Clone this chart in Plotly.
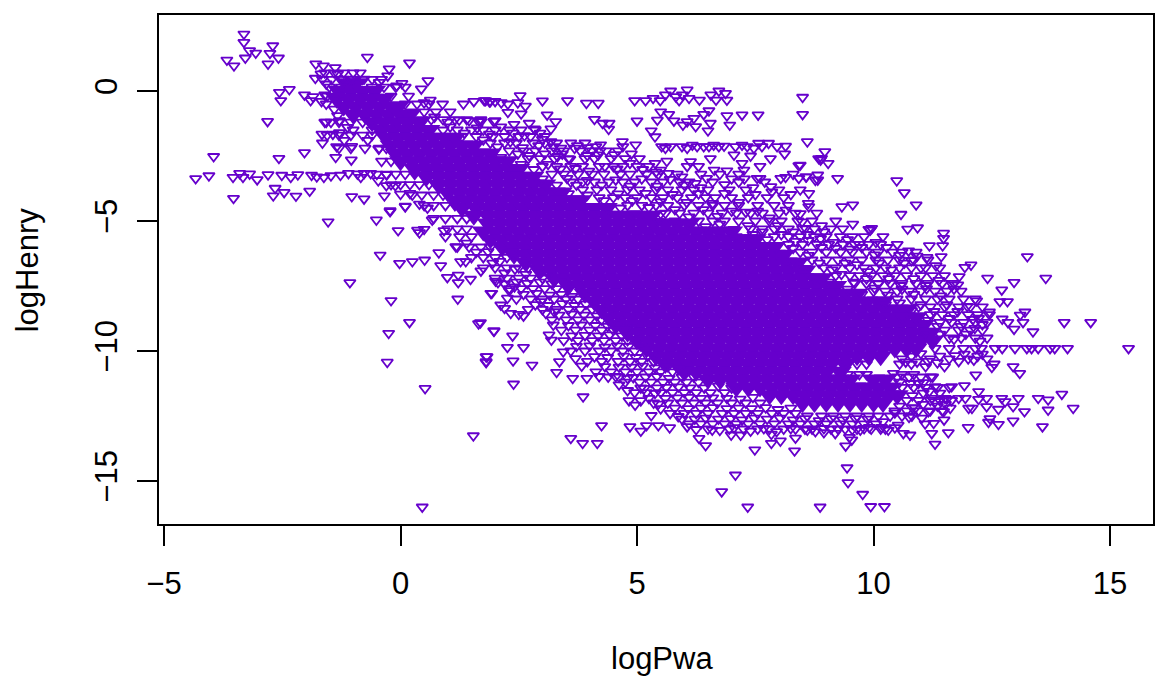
import plotly.graph_objects as go

COLOR = "#6600CC"
x_ticks = [-5, 0, 5, 10, 15]
y_ticks = [0, -5, -10, -15]
x_label = "logPwa"
y_label = "logHenry"

# Overplotted centre of the cloud, read row by row (logHenry level -> logPwa values)
core_levels = [0.3,0.0,-0.3,-0.6,-0.9,-1.2,-1.5,-1.8,-2.1,-2.4,-2.7,-3.0,-3.3,-3.6,-3.9,-4.2,-4.5,-4.8,-5.1,-5.4,-5.7,-6.0,-6.3,-6.6,-6.9,-7.2,-7.5,-7.8,-8.1,-8.4,-8.7,-9.0,-9.3,-9.6,-9.9,-10.2,-10.5,-10.8,-11.1,-11.4,-11.7,-12.0]
core_pwa = [
[-1.15,-0.95],
[-1.3,-1.05,-0.8,-0.55],
[-1.35,-1.1,-0.85,-0.6,-0.35],
[-1.2,-0.95,-0.7,-0.45,-0.2,-0.05],
[-1.0,-0.75,-0.5,-0.25,0.0,0.2],
[-0.6,-0.35,-0.1,0.15,0.4],
[-0.4,-0.15,0.1,0.35,0.6],
[-0.3,-0.05,0.2,0.45,0.7,0.95,1.15],
[-0.2,0.05,0.3,0.55,0.8,1.05,1.3,1.55],
[-0.1,0.15,0.4,0.65,0.9,1.15,1.4,1.65,1.9],
[0.0,0.25,0.5,0.75,1.0,1.25,1.5,1.75,2.0,2.25],
[0.3,0.55,0.8,1.05,1.3,1.55,1.8,2.05,2.3,2.5],
[0.55,0.8,1.05,1.3,1.55,1.8,2.05,2.3,2.55,2.8],
[0.8,1.05,1.3,1.55,1.8,2.05,2.3,2.55,2.8,3.05],
[1.0,1.25,1.5,1.75,2.0,2.25,2.5,2.75,3.0,3.25,3.4],
[1.15,1.4,1.65,1.9,2.15,2.4,2.65,2.9,3.15,3.4,3.65,3.8],
[1.3,1.6,1.85,2.1,2.35,2.6,2.85,3.1,3.35,3.6,3.85,4.1,4.35],
[1.55,1.85,2.1,2.35,2.6,2.85,3.1,3.35,3.6,3.85,4.1,4.35,4.6,4.85,5.1,5.3],
[1.85,2.1,2.35,2.6,2.85,3.1,3.35,3.6,3.85,4.1,4.35,4.6,4.85,5.1,5.35,5.6,5.85,6.1],
[1.75,2.0,2.25,2.5,2.75,3.0,3.25,3.5,3.75,4.0,4.25,4.5,4.75,5.0,5.25,5.5,5.75,6.0,6.25,6.5,6.75,7.0],
[1.9,2.15,2.4,2.65,2.9,3.15,3.4,3.65,3.9,4.15,4.4,4.65,4.9,5.15,5.4,5.65,5.9,6.15,6.4,6.65,6.9,7.15,7.4,7.5],
[2.15,2.4,2.65,2.9,3.15,3.4,3.65,3.9,4.15,4.4,4.65,4.9,5.15,5.4,5.65,5.9,6.15,6.4,6.65,6.9,7.15,7.4,7.65,7.9],
[2.4,2.65,2.9,3.15,3.4,3.65,3.9,4.15,4.4,4.65,4.9,5.15,5.4,5.65,5.9,6.15,6.4,6.65,6.9,7.15,7.4,7.65,7.9,8.1],
[2.65,2.9,3.15,3.4,3.65,3.9,4.15,4.4,4.65,4.9,5.15,5.4,5.65,5.9,6.15,6.4,6.65,6.9,7.15,7.4,7.65,7.9,8.15,8.4],
[2.95,3.2,3.45,3.7,3.95,4.2,4.45,4.7,4.95,5.2,5.45,5.7,5.95,6.2,6.45,6.7,6.95,7.2,7.45,7.7,7.95,8.2,8.45,8.55],
[3.25,3.5,3.75,4.0,4.25,4.5,4.75,5.0,5.25,5.5,5.75,6.0,6.25,6.5,6.75,7.0,7.25,7.5,7.75,8.0,8.25,8.5,8.75,8.9],
[3.55,3.8,4.05,4.3,4.55,4.8,5.05,5.3,5.55,5.8,6.05,6.3,6.55,6.8,7.05,7.3,7.55,7.8,8.05,8.3,8.55,8.8,9.05,9.2],
[3.9,4.15,4.4,4.65,4.9,5.15,5.4,5.65,5.9,6.15,6.4,6.65,6.9,7.15,7.4,7.65,7.9,8.15,8.4,8.65,8.9,9.15,9.4,9.65],
[4.1,4.35,4.6,4.85,5.1,5.35,5.6,5.85,6.1,6.35,6.6,6.85,7.1,7.35,7.6,7.85,8.1,8.35,8.6,8.85,9.1,9.35,9.6,9.85,10.1,10.2],
[4.25,4.5,4.75,5.0,5.25,5.5,5.75,6.0,6.25,6.5,6.75,7.0,7.25,7.5,7.75,8.0,8.25,8.5,8.75,9.0,9.25,9.5,9.75,10.0,10.25,10.5,10.7],
[4.4,4.65,4.9,5.15,5.4,5.65,5.9,6.15,6.4,6.65,6.9,7.15,7.4,7.65,7.9,8.15,8.4,8.65,8.9,9.15,9.4,9.65,9.9,10.15,10.4,10.65,10.9],
[4.55,4.8,5.05,5.3,5.55,5.8,6.05,6.3,6.55,6.8,7.05,7.3,7.55,7.8,8.05,8.3,8.55,8.8,9.05,9.3,9.55,9.8,10.05,10.3,10.55,10.8,11.05],
[4.8,5.05,5.3,5.55,5.8,6.05,6.3,6.55,6.8,7.05,7.3,7.55,7.8,8.05,8.3,8.55,8.8,9.05,9.3,9.55,9.8,10.05,10.3,10.55,10.8,11.05,11.2],
[5.0,5.25,5.5,5.75,6.0,6.25,6.5,6.75,7.0,7.25,7.5,7.75,8.0,8.25,8.5,8.75,9.0,9.25,9.5,9.75,10.0,10.25,10.5,10.75,11.0,11.25],
[5.2,5.45,5.7,5.95,6.2,6.45,6.7,6.95,7.2,7.45,7.7,7.95,8.2,8.45,8.7,8.95,9.2,9.45,9.7,9.95,10.2,10.45,10.7,10.9],
[5.4,5.65,5.9,6.15,6.4,6.65,6.9,7.15,7.4,7.65,7.9,8.15,8.4,8.65,8.9,9.15,9.4,9.65,9.9,10.15],
[5.6,5.85,6.1,6.35,6.6,6.85,7.1,7.35,7.6,7.85,8.1,8.35,8.6,8.85,9.1,9.4],
[6.0,6.25,6.5,6.75,7.0,7.25,7.5,7.75,8.0,8.25,8.5,8.75,9.0,9.3],
[6.5,6.75,7.0,7.25,7.5,7.75,8.0,8.25,8.5,8.75,9.0,9.25,9.5,10.0,10.25],
[7.1,7.35,7.6,7.85,8.1,8.35,8.6,8.85,9.1,9.35,9.6,9.85,10.1,10.35],
[7.8,8.05,8.3,8.55,8.8,9.05,9.3,9.55,9.8,10.05,10.3,10.5],
[8.5,8.75,9.0,9.25,9.5,9.75,10.0,10.2],
]

# Fringe of the cloud, read row by row
band_levels = [-1.5,-1.75,-2.0,-2.3,-2.6,-2.9,-3.2,-3.5,-3.8,-4.1,-4.4,-4.7,-5.0,-5.3,-5.6,-5.9,-6.2,-6.5,-6.8,-7.1,-7.4,-7.7,-8.0,-8.3,-8.6,-8.9,-9.2,-9.5]
band_pwa = [
[0.9,1.2,1.5,1.75,2.0,2.3,2.55,2.85],
[1.3,1.6,1.95,2.2,2.5,2.75,3.05],
[1.9,2.2,2.45,2.8,3.05,3.3,3.6,3.9],
[2.3,2.6,2.85,3.2,3.45,3.8,4.05,4.35,4.6],
[2.7,2.95,3.25,3.55,3.9,4.1,4.45,4.75,5.05],
[3.0,3.3,3.6,3.85,4.2,4.5,4.7,5.0,5.25,6.3,7.6],
[3.2,3.45,3.75,4.05,4.3,4.65,4.85,5.2,5.45,6.75,8.3],
[3.6,3.85,4.1,4.4,4.7,4.95,5.3,5.55,5.9,6.1,6.6,7.15,7.7],
[3.85,4.15,4.45,4.8,5.05,5.4,5.65,5.95,6.2,6.5,6.95,7.3,8.0,8.45],
[4.2,4.5,4.75,5.0,5.3,5.55,5.85,6.15,6.45,6.65,7.0,7.35,7.75,8.1],
[4.8,5.1,5.4,5.65,6.0,6.3,6.6,6.85,7.15,7.55,7.9,8.2],
[5.6,5.9,6.2,6.5,6.8,7.1,7.4,7.65,8.0,8.35,8.8],
[6.3,6.6,6.85,7.15,7.5,7.8,8.05,8.4,8.7,9.2],
[7.4,7.65,7.9,8.2,8.5,8.75,9.1,9.35],
[7.9,8.2,8.45,8.75,9.0,9.3,9.55,9.8,10.2],
[8.2,8.5,8.8,9.05,9.35,9.6,9.9,10.15,10.5],
[8.45,8.7,9.0,9.3,9.55,9.85,10.1,10.4,10.6,10.9],
[8.7,9.0,9.25,9.5,9.75,10.05,10.3,10.55,10.85,11.15],
[8.95,9.2,9.5,9.8,10.05,10.25,10.55,10.8,11.1,11.4],
[9.2,9.5,9.7,9.95,10.2,10.45,10.7,11.0,11.25,11.5],
[9.6,9.85,10.1,10.35,10.6,10.9,11.15,11.45,11.7],
[10.0,10.25,10.5,10.75,11.0,11.3,11.55,11.85],
[10.5,10.8,11.1,11.35,11.6,11.9,12.15],
[10.95,11.2,11.5,11.8,12.05,12.3],
[11.2,11.45,11.7,12.0,12.2,12.45],
[11.4,11.65,11.9,12.15,12.4],
[11.5,11.8,12.05,12.3],
[11.6,11.85,12.15,12.4],
]
low_levels = [-5.6,-6.0,-6.4,-6.8,-7.2,-7.6,-8.0,-8.4,-8.8,-9.2,-9.6,-10.0,-10.4,-10.8,-11.2,-11.6,-12.0,-12.4,-12.8,-13.0,-12.5,-10.5,-10.9,-11.0,-11.4,-11.9,-12.3]
low_pwa = [
[0.95,1.25,1.5],
[1.2,1.45,1.7,1.9],
[1.5,1.75,2.0,2.25],
[1.75,2.0,2.25,2.5,2.7],
[2.0,2.25,2.5,2.75,3.0],
[2.3,2.55,2.8,3.05,3.3,3.55],
[2.45,2.75,3.0,3.25,3.5,3.75],
[2.7,3.0,3.3,3.55,3.8,4.05,4.3],
[3.2,3.5,3.75,4.0,4.25,4.5],
[3.4,3.7,4.0,4.25,4.5,4.75],
[3.45,3.75,4.05,4.3,4.55,4.8,5.0],
[3.6,3.9,4.2,4.45,4.7,4.95,5.2],
[3.95,4.25,4.6,4.85,5.1,5.35],
[4.45,4.75,5.0,5.25,5.5,5.75],
[4.75,5.05,5.3,5.55,5.8,6.05,6.3],
[4.95,5.2,5.5,5.75,6.0,6.25,6.55,6.85],
[5.35,5.65,5.95,6.2,6.45,6.7,7.0,7.3,7.6],
[5.7,6.0,6.25,6.5,6.8,7.05,7.3,7.55,7.85,8.1,8.35],
[6.1,6.35,6.6,6.85,7.1,7.35,7.6,7.9,8.2,8.45,8.75,9.0,9.3,9.55,9.8,10.05],
[6.5,6.95,7.25,7.55,7.8,8.1,8.35,8.7,9.1,9.4,9.65,9.95,10.25],
[8.6,8.9,9.15,9.4,9.65,9.9,10.1,10.35,10.6],
[9.45,9.65,9.85,10.55,10.8],
[9.45,9.7,9.85,10.6,10.85],
[10.5,10.75,11.0,11.25],
[10.6,10.85,11.1,11.35,11.6],
[10.7,10.95,11.2,11.4,11.65],
[10.45,10.7,10.95,11.2,11.45],
]
head_levels = [0.7,0.45,0.15,-0.2,-0.5,-0.8,-1.1,-1.2,-1.7,-2.2,-2.7,-3.2,-3.6,-4.0,-4.4,-4.9,-5.3]
head_pwa = [
[-1.6,-1.4,-1.2,-1.0,-0.85],
[-1.65,-1.45,-1.25,-1.05,-0.8,-0.6,-0.4],
[-1.5,-1.25,-0.6,-0.35,-0.1,0.1],
[-1.55,-1.3,-0.2],
[0.1,0.35,0.6],
[0.25,0.5,0.75,1.05],
[0.45,0.65,0.9,1.15,1.4,1.7],
[-1.6,-1.3,-1.05,-0.8,-0.65],
[-1.55,-1.3,-1.05,-0.8,-0.6],
[-1.3,-1.05,-0.75,-0.45,-0.3],
[-0.4,-0.2],
[-0.5,-0.3,-0.1,0.1,0.3],
[-0.2,0.0,0.2,0.4,0.6],
[0.25,0.45,0.7,0.9],
[0.5,0.7,0.95,1.15],
[0.7,0.95,1.2,1.4],
[1.0,1.2,1.4],
]

# Individually readable points, (logPwa, logHenry)
top_left = [(-3.31,2.19),(-3.31,1.87),(-3.19,1.55),(-3.06,1.46),(-3.28,1.27),(-3.67,1.19),(-3.52,0.97),(-2.70,1.74),(-2.76,1.45),(-2.58,1.27),(-2.80,1.04),(-0.70,1.3),(0.19,1.08),(-0.24,0.85),(0.58,0.4),(0.44,0.08),(-1.79,1.04),(-1.63,0.97),(-1.38,0.9),(-1.8,0.49),(-2.35,0.06),(-2.56,-0.05),(-2.53,-0.37),(-2.81,-1.17),(-2.03,-0.15),(-1.85,-0.22),(-1.90,-0.37),(-1.67,-0.4),(-1.57,-0.5),(-1.4,-0.7),
(-1.57,-1.2),(-1.47,-1.2),(-1.29,-1.14),(-1.66,-1.66),(-1.43,-1.66),(-1.29,-1.6),(-1.65,-2.0),(-1.35,-2.14),(-1.19,-1.9),(-1.03,-2.13),(-1.0,-1.5),(-1.12,-1.4),(-0.69,-1.9),(-0.46,-2.23),(-0.6,-1.5),(-1.6,-0.15),(-1.33,-0.95),
(-1.68,0.66),(-1.33,0.66),(-1.22,0.46),(-1.0,0.46),(-0.77,0.46),(-1.57,0.27),(-0.45,0.33),(-0.27,0.58),(-0.08,0.2),(0.03,0.29),(0.17,-0.2),(0.5,-0.45),(0.63,-0.35),(0.89,-0.5),(1.33,-0.5),(1.55,-0.4),(1.8,-0.37),(1.9,-0.4),(2.0,-0.4),(0.72,-1.0),(1.0,-1.2),(1.24,-1.12),(1.45,-1.14),(1.65,-1.17),(1.97,-1.17)]
stripe_low = [(-3.95,-2.52),(-4.33,-3.37),(-4.05,-3.26),(-3.54,-3.32),(-3.4,-3.17),(-3.33,-3.32),(-3.19,-3.19),(-3.03,-3.41),(-2.8,-3.22),(-2.51,-3.24),(-2.32,-3.32),(-2.17,-3.22),(-1.88,-3.24),(-1.77,-3.3),(-1.62,-3.32),(-1.47,-3.26),(-1.27,-3.24),(-1.1,-3.17),(-0.91,-3.19),(-0.77,-3.17),(-0.84,-3.32),(-0.63,-3.17),(-0.47,-3.45),(-3.53,-4.13),(-2.69,-4.03),(-2.65,-3.74),(-2.46,-3.9),(-2.21,-4.04),(-1.92,-3.85),(-2.57,-2.59),(-2.03,-2.37),(-1.37,-2.55),(-1.04,-2.65),(-1.03,-4.06),(-0.77,-4.15),(-0.22,-4.6),(0.1,-4.43),(-0.3,-3.64),(-0.34,-4.03),(0.0,-3.97),(0.2,-3.94),(0.4,-4.35),(0.57,-4.5),(-0.11,-3.64),(-0.29,-3.22)]
top_row = [(1.77,-0.37),(1.88,-0.41),(2.13,-0.45),(2.27,-0.5),(2.53,-0.18),(2.48,-0.45),(2.64,-0.58),(3.0,-0.38),(3.53,-0.37),(3.93,-0.47),(4.18,-0.47),(4.95,-0.37),(5.18,-0.37),(5.34,-0.28),(5.49,-0.37),(5.6,-0.15),(5.71,0.0),(5.82,-0.22),(5.89,-0.37),(5.96,-0.15),(6.06,0.04),(6.1,-0.28),(6.32,-0.35),(6.56,-0.15),(6.67,-0.35),(6.73,0.0),(6.87,-0.09),(6.9,-0.35),(8.5,-0.24),(8.5,-0.9),
(2.27,-0.82),(2.55,-0.88),(3.1,-0.92),(3.28,-1.18),(3.18,-1.46),(2.0,-1.14),(1.7,-1.18),(2.4,-1.28),(2.72,-1.24),(2.83,-1.46),(4.1,-1.09),(4.27,-1.24),(4.4,-1.47),(4.41,-1.24),(5.0,-1.15),(5.43,-1.12),(5.5,-0.8),(5.67,-0.9),(5.78,-1.15),(5.97,-1.31),(6.06,-1.18),(6.24,-1.37),(6.2,-1.05),(6.41,-0.9),(6.52,-0.76),(6.55,-1.24),(6.5,-1.53),(6.9,-0.95),(6.96,-1.31),(7.22,-0.92),(7.56,-0.92),(5.3,-1.53),(5.38,-1.76)]
stripe_two = [(5.52,-2.14),(5.6,-2.2),(5.71,-2.14),(5.95,-2.14),(6.06,-2.2),(6.17,-2.08),(6.27,-2.14),(6.41,-2.14),(6.52,-2.14),(6.62,-2.08),(6.73,-2.14),(6.84,-2.12),(7.08,-2.14),(7.22,-2.08),(7.33,-2.14),(7.47,-2.2),(7.57,-2.01),(7.64,-2.14),(7.78,-2.01),(7.96,-2.14),(8.14,-2.12),(8.12,-2.42),(7.82,-2.6),(7.4,-2.5),(6.55,-2.6),(8.6,-1.95),(4.97,-2.07),(4.69,-1.95),(4.7,-2.14),(4.23,-2.07),(4.13,-2.14),(4.18,-2.46),(3.74,-2.1),(3.39,-2.2),(3.23,-2.14),(3.0,-1.86),(8.84,-2.6),
(5.38,-2.78),(5.63,-2.7),(5.5,-3.04),(5.66,-3.17),(6.13,-2.72),(6.06,-2.9),(5.95,-3.3),(5.85,-3.2),(6.35,-3.2),(6.63,-3.04),(6.47,-3.36),(6.23,-3.55),(6.9,-3.07),(7.0,-3.38),(7.05,-2.46),(7.22,-2.78),(7.26,-3.04),(7.15,-3.2),(7.54,-3.36),(7.6,-3.36),(7.27,-3.38),(7.83,-3.68),(8.42,-2.87),(8.58,-3.3),(8.42,-3.36),(8.14,-3.32),(8.04,-3.36),(8.77,-3.43)]
right_upper = [(9.24,-3.36),(10.49,-3.45),(10.65,-3.91),(10.9,-4.38),(10.58,-4.74),(9.33,-4.45),(9.56,-4.38),(8.63,-3.94),(8.62,-4.32),(8.63,-4.45),(8.82,-3.23),(8.82,-3.42),(8.57,-3.3),(8.9,-2.59),(9.04,-2.78),(8.45,-2.85),(8.88,-2.65),(8.97,-2.33),(9.93,-5.35),(9.96,-5.28),(9.9,-5.32),(9.56,-5.12),(8.9,-5.18),(8.56,-5.28),(8.49,-5.03),(10.72,-5.31),(10.93,-5.26),(11.48,-5.47),(11.48,-5.67),(11.46,-5.95),(11.18,-5.95),(10.74,-6.15),(10.92,-6.35),(11.13,-6.4),(11.43,-6.37),(11.32,-6.72),(11.93,-6.78),(12.06,-6.69),(13.25,-6.37),(13.64,-7.2),(12.41,-7.2),(12.97,-7.36),(12.71,-7.65),(12.67,-8.1),(12.83,-8.1),(12.45,-8.5),(13.2,-8.5),(13.1,-8.62),(12.72,-8.77),(12.84,-8.9),(13.16,-8.9),(12.97,-9.16),(13.37,-9.26),(14.03,-8.9),(14.59,-8.9),(15.39,-9.9),(11.81,-7.14),(11.78,-7.46),(11.67,-7.46),(12.18,-8.07),(12.22,-8.74),(12.14,-9.13)]
right_lower = [(11.3,-9.9),(11.6,-9.9),(11.9,-9.9),(12.15,-9.9),(12.28,-9.9),(12.57,-9.9),(12.72,-9.9),(12.99,-9.9),(13.24,-9.9),(13.34,-9.9),(13.48,-9.9),(13.73,-9.9),(13.83,-9.9),(14.1,-9.9),
(10.6,-10.3),(10.8,-10.2),(11.0,-10.1),(11.2,-10.3),(11.4,-10.2),(11.6,-10.3),(11.8,-10.4),(12.0,-10.3),(12.2,-10.2),(12.4,-10.3),(12.55,-10.5),(11.5,-10.6),(11.1,-10.6),
(12.5,-10.63),(12.95,-10.6),(13.09,-10.86),(12.16,-10.92),(11.21,-11.0),(10.42,-10.86),(10.95,-11.24),(11.3,-11.37),(11.65,-11.37),(11.92,-11.33),(12.22,-11.56),(13.98,-11.66),(13.48,-11.82),(13.69,-11.88),(13.06,-11.82),(12.71,-11.82),(12.78,-11.95),(12.39,-11.82),(12.22,-11.86),(11.94,-11.82),(11.8,-11.82),(11.51,-11.82),(11.23,-11.82),(12.01,-12.2),(12.08,-12.2),(12.39,-12.14),(12.64,-12.24),(12.95,-12.14),(13.19,-12.33),(13.69,-12.27),(14.22,-12.2),(11.62,-12.2),(11.48,-12.33),(11.16,-12.33),(10.88,-12.2),(12.46,-12.6),(12.43,-12.74),(12.64,-12.82),(12.95,-12.69),(13.57,-12.91),(12.0,-12.94),(11.58,-13.14),(11.23,-13.17),(11.3,-13.58),(11.09,-12.8),(11.27,-12.78),(11.49,-12.65),(10.81,-12.5),(10.77,-13.23),(10.63,-13.17),(10.52,-12.85),(10.31,-13.04),(10.17,-12.94),(9.91,-12.94),(9.72,-13.04),(9.54,-13.42),(9.49,-13.32),(9.41,-13.65),(9.44,-14.49),(9.46,-15.06),(9.77,-15.51),(9.94,-15.98),(10.23,-15.98),(8.87,-16.0),
(9.19,-13.17),(8.95,-13.14),(8.77,-13.1),(8.6,-13.04)]
lower_mid = [(2.06,-7.37),(1.91,-7.78),(2.3,-7.68),(2.41,-7.53),(2.26,-7.97),(2.12,-8.23),(2.2,-8.36),(2.33,-8.55),(2.5,-8.59),(2.6,-8.65),(2.97,-8.1),(3.07,-8.55),(3.25,-8.49),(1.69,-8.91),(1.97,-9.23),(2.37,-9.42),(2.26,-9.86),(2.6,-9.86),(1.81,-10.22),(1.81,-10.41),(2.38,-10.38),(2.78,-10.54),(2.39,-11.27),(3.23,-9.0),(3.14,-9.38),(3.19,-9.58),(3.44,-10.03),(3.36,-10.41),(3.3,-10.82),(3.7,-10.29),(3.83,-10.58),(3.64,-11.05),(3.94,-11.05),(4.13,-10.8),(4.2,-10.98),(4.39,-11.0),(4.55,-10.98),(4.8,-11.05),(4.62,-11.3),(4.8,-11.52),(4.83,-11.91),(4.96,-12.08),(5.08,-11.91),(5.15,-11.44),(5.38,-11.63),(5.45,-12.04),(5.3,-12.48),(5.2,-12.87),(4.85,-12.91),(5.08,-13.08),(5.45,-12.87),(5.69,-12.95),(5.87,-12.52),(6.06,-12.91),(6.31,-13.36),(6.45,-13.64),(6.59,-13.04),(6.99,-13.23),(7.19,-13.23),(7.49,-13.8),(7.84,-13.55),(8.03,-13.46),(8.33,-13.84),(8.35,-13.35),(7.84,-13.2),(7.08,-14.77),(6.79,-15.41),(7.34,-16.0),(4.25,-12.87),(3.6,-13.36),(3.85,-13.55),(4.16,-13.55),(3.86,-11.76)]
lower_left = [(-1.53,-5.03),(-0.51,-4.96),(-0.22,-4.64),(0.1,-4.45),(-0.05,-5.37),(0.36,-5.35),(0.5,-5.32),(0.4,-5.45),(0.67,-4.96),(0.92,-5.37),(-0.43,-6.31),(-0.02,-6.63),(0.25,-6.56),(0.51,-6.5),(0.81,-6.22),(0.85,-6.72),(0.99,-7.17),(1.22,-7.08),(1.22,-7.37),(1.48,-7.24),(1.7,-6.92),(2.01,-7.31),(1.93,-7.78),(1.17,-5.99),(1.27,-6.56),(1.38,-6.56),(-1.07,-7.37),(-0.2,-8.06),(0.19,-8.9),(-0.25,-9.32),(-0.28,-10.43),(1.21,-8.0),(1.65,-8.95),(1.98,-9.23),(1.83,-10.22),(1.81,-10.44),(0.52,-11.44),(1.54,-13.26),(0.46,-16.0)]
upper_fill = [(1.05,-1.38),(1.35,-1.62),(1.62,-1.42),(1.88,-1.66),(2.12,-1.38),(2.38,-1.62),(2.62,-1.72),(2.95,-1.62),(1.75,-1.88),(2.05,-2.15),(2.32,-1.95),(2.58,-2.18),(2.92,-2.1),(3.18,-1.95),(3.42,-2.42),(3.68,-2.2),(3.95,-2.18),(2.12,-2.55),(2.48,-2.42),(2.72,-2.48),(3.05,-2.42),(3.32,-2.52),(3.58,-2.62),(3.95,-2.48),(4.22,-2.3),(4.52,-2.45),(4.88,-2.42),(2.55,-2.82),(2.82,-3.02),(3.12,-2.82),(3.38,-3.0),(3.7,-2.98),(3.98,-3.08),(4.32,-2.9),(4.58,-3.0),(4.85,-2.78),(5.12,-3.02),(5.4,-3.12),
(3.0,-3.38),(3.3,-3.62),(3.52,-3.36),(3.72,-3.62),(3.95,-3.44),(4.25,-3.62),(4.55,-3.42),(4.85,-3.66),(5.1,-3.38),(5.42,-3.66),(5.7,-3.4),(6.0,-3.62),(6.35,-3.72),(6.85,-3.6),(7.45,-3.72),(3.55,-3.95),(3.95,-4.0),(4.3,-4.22),(4.6,-3.96),(4.9,-4.22),(5.18,-3.94),(5.5,-4.26),(5.75,-3.98),(6.05,-4.28),(6.3,-3.95),(6.6,-4.32),(6.85,-3.94),(7.15,-4.28),(7.5,-3.98),(7.85,-3.88),(8.25,-3.98),(4.4,-4.55),(4.65,-4.5),(4.95,-4.72),(5.25,-4.48),(5.5,-4.72),(5.8,-4.56),(6.1,-4.84),(6.4,-4.56),(6.7,-4.82),(7.0,-4.62),(7.3,-4.66),(7.55,-4.62),(7.8,-4.88),(8.15,-4.58),(8.45,-4.72),(5.45,-5.02),(5.8,-5.0),(6.1,-5.12),(6.45,-5.22),(6.75,-5.12),(7.05,-5.32),(7.35,-5.18),(7.65,-5.42),(7.98,-5.18),(8.3,-5.42),(8.6,-5.52),(8.95,-5.42),(7.1,-5.6),(7.45,-5.52),(7.75,-5.72),(8.05,-5.52),(8.35,-5.78),(8.62,-5.75),(8.88,-5.68),(9.15,-5.82),(9.45,-5.72),(9.7,-5.9),(10.05,-5.82),(7.95,-6.0),(8.3,-6.05),(8.62,-6.32),(8.9,-6.02),(9.2,-6.05),(9.5,-6.08),(9.75,-6.02),(10.02,-6.3),(10.28,-6.02),(10.55,-6.32),(10.8,-6.52),(8.3,-6.6),(8.55,-6.82),(8.85,-6.62),(9.12,-6.88),(9.4,-6.62),(9.65,-6.68),(9.88,-6.95),(10.12,-6.62),(10.38,-6.88),(10.65,-6.62),(11.0,-6.8),(8.75,-7.22),(9.05,-7.35),(9.32,-7.05),(9.58,-7.35),(9.85,-7.22),(10.1,-7.42),(10.32,-7.22),(10.58,-7.48),(10.85,-7.22),(11.1,-7.48),(11.38,-7.28),(9.45,-7.62),(9.75,-7.82),(10.02,-7.58),(10.3,-7.85),(10.6,-7.62),(10.85,-7.82),(11.12,-7.6),(11.42,-7.88),(11.7,-7.62),(10.25,-8.22),(10.55,-8.15),(10.8,-8.45),(11.0,-8.22),(11.28,-8.48),(11.55,-8.22),(11.78,-8.48),(11.98,-8.28),(10.6,-8.75),(10.9,-8.75),(11.15,-8.82),(11.35,-9.05),(11.6,-8.75),(11.85,-9.05),(12.1,-8.78),(12.3,-8.98),(11.1,-9.3),(11.4,-9.35),(11.7,-9.55),(11.95,-9.35),(12.25,-9.62)]
lower_fill = [(1.4,-5.85),(1.6,-6.2),(1.85,-6.18),(2.1,-6.55),(2.35,-6.2),(2.62,-6.55),(1.95,-6.62),(2.2,-7.0),(2.42,-6.85),(2.65,-7.05),(2.9,-6.92),(3.15,-7.05),(2.2,-7.42),(2.45,-7.35),(2.68,-7.4),(2.95,-7.35),(3.2,-7.42),(3.45,-7.28),(2.6,-7.82),(2.88,-7.78),(3.15,-7.85),(3.4,-7.82),(3.62,-7.9),(3.88,-7.75),(2.85,-8.22),(3.12,-8.25),(3.42,-8.18),(3.68,-8.25),(3.92,-8.2),(4.18,-8.25),(3.35,-8.62),(3.62,-8.58),(3.88,-8.62),(4.15,-8.65),(4.38,-8.58),(4.62,-8.62),(3.55,-9.02),(3.82,-9.0),(4.12,-9.02),(4.38,-9.05),(4.62,-9.0),(4.88,-9.05),(3.62,-9.42),(3.9,-9.4),(4.18,-9.42),(4.42,-9.38),(4.68,-9.42),(4.92,-9.4),(3.72,-9.82),(4.0,-9.8),(4.32,-9.85),(4.58,-9.8),(4.82,-9.82),(5.08,-9.8),(4.1,-10.22),(4.38,-10.25),(4.72,-10.2),(4.98,-10.25),(5.22,-10.2),(5.48,-10.25),(4.32,-10.6),(4.62,-10.62),(4.88,-10.62),(5.12,-10.58),(5.38,-10.65),(5.65,-10.6),(5.88,-10.7),(4.62,-11.0),(4.92,-11.02),(5.18,-11.0),(5.42,-10.98),(5.68,-11.05),(5.95,-11.0),(6.2,-11.0),(5.08,-11.42),(5.42,-11.42),(5.62,-11.4),(5.88,-11.38),(6.12,-11.42),(6.42,-11.42),(6.72,-11.35),(7.0,-11.42),(5.25,-11.82),(5.6,-11.82),(5.85,-11.8),(6.1,-11.78),(6.35,-11.82),(6.6,-11.8),(6.9,-11.82),(7.18,-11.85),(7.45,-11.78),(5.5,-12.22),(5.8,-12.2),(6.08,-12.22),(6.35,-12.2),(6.6,-12.18),(6.9,-12.22),(7.15,-12.2),(7.42,-12.22),(7.72,-12.18),(7.98,-12.25),(8.25,-12.2),(5.95,-12.62),(6.22,-12.62),(6.45,-12.58),(6.72,-12.62),(6.98,-12.6),(7.22,-12.65),(7.48,-12.58),(7.75,-12.62),(8.02,-12.58),(8.3,-12.65),(8.55,-12.6),(8.85,-12.68),(9.1,-12.6),(9.35,-12.65),(9.62,-12.6),(9.88,-12.62),(10.2,-12.72),(6.25,-13.02),(6.75,-13.05),(7.05,-12.95),(7.4,-13.08),(7.68,-12.98),(7.95,-13.1),(8.25,-12.98),(8.55,-13.0),(8.95,-12.98),(9.25,-13.0),(9.55,-13.02),(9.8,-12.98),(10.15,-13.0),(10.45,-12.95),
(10.55,-11.2),(10.78,-11.25),(11.05,-11.22),(11.18,-11.55),(11.4,-11.62),(11.55,-11.85),(10.82,-11.72),(11.05,-11.62),(11.3,-11.95),(10.55,-12.12),(10.82,-12.18),(11.05,-12.05),(11.35,-12.12),(11.52,-12.05),(10.75,-12.55),(11.02,-12.58),(10.45,-12.38),(10.68,-10.42),(10.92,-10.42),(11.15,-10.4),(11.35,-10.45),(11.72,-10.18),(11.92,-10.12),(12.12,-10.35),(12.3,-10.12)]
point_groups = [top_left, stripe_low, top_row, stripe_two, right_upper, right_lower, lower_mid, lower_left, upper_fill, lower_fill]
row_groups = [(band_levels, band_pwa), (low_levels, low_pwa), (head_levels, head_pwa)]

core_x = [v for row in core_pwa for v in row]
core_y = [lvl for lvl, row in zip(core_levels, core_pwa) for _ in row]
pts = [p for g in point_groups for p in g]
for levels, rows in row_groups:
    pts += [(v, lvl) for lvl, row in zip(levels, rows) for v in row]

fig = go.Figure()
fig.add_trace(go.Scatter(x=core_x, y=core_y, mode="markers", hoverinfo="skip",
    marker=dict(symbol="triangle-down", size=20, color=COLOR, line=dict(width=0))))
fig.add_trace(go.Scatter(x=[p[0] for p in pts], y=[p[1] for p in pts], mode="markers",
    marker=dict(symbol="triangle-down-open", size=10, color=COLOR, line=dict(width=1.8, color=COLOR))))

tick_font = dict(family="Liberation Sans, Arial, sans-serif", size=31, color="black")
title_font = dict(family="Liberation Sans, Arial, sans-serif", size=31, color="black")
fig.update_layout(
    width=1155, height=677, showlegend=False,
    paper_bgcolor="white", plot_bgcolor="white",
    margin=dict(l=159, r=0, t=15, b=153),
    font=tick_font,
    xaxis=dict(range=[-5.105, 15.907], tickvals=x_ticks, ticks="outside", ticklen=20, tickwidth=1.5,
               tickcolor="black", showgrid=False, zeroline=False, showline=True, linecolor="black",
               linewidth=1.5, mirror=True, tickfont=tick_font, ticklabelstandoff=11),
    yaxis=dict(range=[-16.654, 2.923], tickvals=y_ticks, ticks="outside", ticklen=20, tickwidth=1.5,
               tickcolor="black", showgrid=False, zeroline=False, showline=True, linecolor="black",
               linewidth=1.5, mirror=True, tickangle=-90, tickfont=tick_font, ticklabelstandoff=8),
    annotations=[
        dict(text=x_label, xref="paper", yref="paper", x=(663-159)/996, y=(524-658)/509,
             xanchor="center", yanchor="middle", showarrow=False, font=title_font),
        dict(text=y_label, xref="paper", yref="paper", x=(27-159)/996, y=(524-270)/509,
             xanchor="center", yanchor="middle", textangle=-90, showarrow=False, font=title_font),
    ],
)
fig.write_html("out.html", config=dict(displayModeBar=False),
               post_script="document.body.style.margin='0';")
